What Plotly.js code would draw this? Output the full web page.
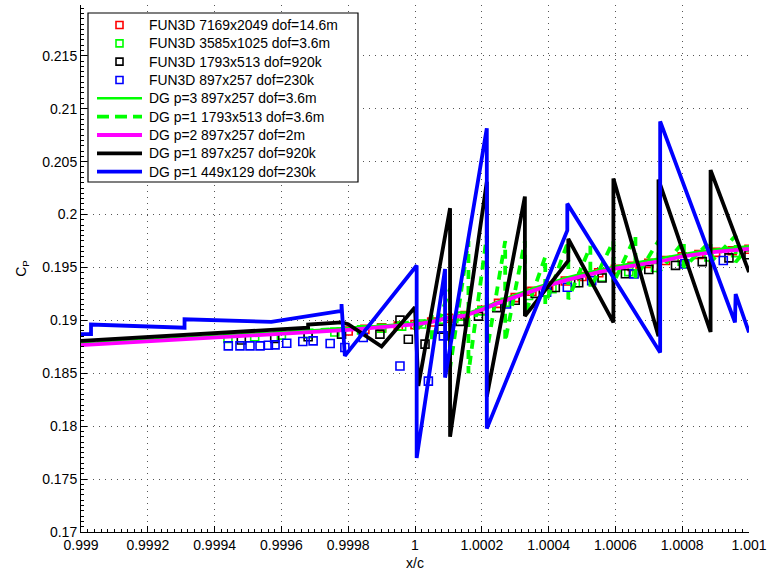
<!DOCTYPE html>
<html>
<head>
<meta charset="utf-8">
<script src="https://cdn.plot.ly/plotly-3.0.1.min.js"></script>
<style>html,body{margin:0;padding:0;background:#fff;}#chart{width:767px;height:578px;}</style>
</head>
<body>
<div id="chart"></div>
<script>
// ---------- data ----------
const xTicks = [0.999, 0.9992, 0.9994, 0.9996, 0.9998, 1.0, 1.0002, 1.0004, 1.0006, 1.0008, 1.001];
const xTickText = ['0.999', '0.9992', '0.9994', '0.9996', '0.9998', '1', '1.0002', '1.0004', '1.0006', '1.0008', '1.001'];
const yTicks = [0.17, 0.175, 0.18, 0.185, 0.19, 0.195, 0.2, 0.205, 0.21, 0.215];
const yTickText = ['0.17', '0.175', '0.18', '0.185', '0.19', '0.195', '0.2', '0.205', '0.21', '0.215'];

const seriesNames = [
  'FUN3D 7169x2049 dof=14.6m',
  'FUN3D 3585x1025 dof=3.6m',
  'FUN3D 1793x513 dof=920k',
  'FUN3D 897x257 dof=230k',
  'DG p=3 897x257 dof=3.6m',
  'DG p=1 1793x513 dof=3.6m',
  'DG p=2 897x257 dof=2m',
  'DG p=1 897x257 dof=920k',
  'DG p=1 449x129 dof=230k'
];

// FUN3D 7169x2049 (red squares)
const redX = [0.9998, 0.99985, 0.9999, 0.99995, 1.0, 1.00005, 1.0001, 1.00015, 1.0002, 1.00025, 1.0003, 1.00035, 1.0004, 1.00045, 1.0005, 1.00055, 1.0006, 1.00065, 1.0007, 1.00075, 1.0008, 1.00085, 1.0009, 1.00095, 1.001];
const redY = [0.18900, 0.18915, 0.18930, 0.18945, 0.18960, 0.18985, 0.19020, 0.19045, 0.19095, 0.19160, 0.19215, 0.19275, 0.19325, 0.19372, 0.19415, 0.19450, 0.19482, 0.19510, 0.19538, 0.19565, 0.19600, 0.19622, 0.19642, 0.19658, 0.19672];

// FUN3D 3585x1025 (green squares)
const grnX = [0.99944, 0.99952, 0.9996, 0.99968, 0.99976, 0.99984, 0.9999, 0.99996, 1.00002, 1.00008, 1.00014, 1.0002, 1.00027, 1.00034, 1.00041, 1.00048, 1.00056, 1.00064, 1.00072, 1.0008, 1.00088, 1.00096];
const grnY = [0.18830, 0.18845, 0.18860, 0.18875, 0.18890, 0.18910, 0.18925, 0.18945, 0.18965, 0.19010, 0.19040, 0.19090, 0.19170, 0.19235, 0.19300, 0.19355, 0.19410, 0.19460, 0.19500, 0.19560, 0.19600, 0.19640];

// FUN3D 1793x513 (black squares)
const blkX = [0.99948, 0.99958, 0.99968, 0.99978, 0.999895, 0.999955, 0.99998, 1.00003, 1.00008, 1.000135, 1.00019, 1.000245, 1.0003, 1.00036, 1.00042, 1.00049, 1.00056, 1.00063, 1.0007, 1.00078, 1.00086, 1.00094, 1.001];
const blkY = [0.18815, 0.18830, 0.18845, 0.18870, 0.18870, 0.19002, 0.18822, 0.18775, 0.18917, 0.18990, 0.19040, 0.19120, 0.19190, 0.19255, 0.19310, 0.19355, 0.19400, 0.19440, 0.19480, 0.19520, 0.19555, 0.19590, 0.19620];

// FUN3D 897x257 (blue squares)
const bluX = [0.999441, 0.999476, 0.999506, 0.999536, 0.999561, 0.999581, 0.999616, 0.999664, 0.999695, 0.999746, 0.99979, 0.999845, 0.999955, 1.00004, 1.000085, 1.000274, 1.000394, 1.000456, 1.000529, 1.000656, 1.000808, 1.000923];
const bluY = [0.18759, 0.18759, 0.18759, 0.18759, 0.18765, 0.18768, 0.18784, 0.18800, 0.18806, 0.18781, 0.18743, 0.18838, 0.18569, 0.18426, 0.18853, 0.19154, 0.19265, 0.19313, 0.19375, 0.19439, 0.19534, 0.19565];

// DG p=3 897x257 (green solid)
const dg3X = [0.999, 0.9992, 0.9994, 0.9996, 0.9998, 0.9999, 1.0, 1.00005, 1.0001, 1.00015, 1.0002, 1.00025, 1.0003, 1.00035, 1.0004, 1.00045, 1.0005, 1.00055, 1.0006, 1.00065, 1.0007, 1.00075, 1.0008, 1.00085, 1.0009, 1.00095, 1.001];
const dg3Y = [0.18780, 0.18815, 0.18850, 0.18885, 0.18925, 0.18950, 0.18975, 0.19000, 0.19035, 0.19060, 0.19115, 0.19180, 0.19240, 0.19300, 0.19350, 0.19400, 0.19440, 0.19478, 0.19510, 0.19540, 0.19568, 0.19595, 0.19628, 0.19650, 0.19670, 0.19685, 0.19700];

// DG p=1 1793x513 (green dashed)
const dg1fX = [0.999, 0.9996, 0.9998, 0.99995, 1.0, 1.0, 1.00005, 1.00005, 1.000105, 1.000105, 1.00016, 1.00016, 1.000215, 1.000215, 1.00027, 1.00027, 1.000329, 1.000329, 1.00039, 1.00039, 1.000459, 1.000459, 1.000525, 1.000525, 1.000594, 1.000594, 1.00066, 1.00066, 1.000729, 1.000729, 1.000805, 1.000805, 1.000885, 1.000885, 1.00096, 1.00096, 1.001];
const dg1fY = [0.18785, 0.18890, 0.18930, 0.18950, 0.19000, 0.18900, 0.19050, 0.18800, 0.19300, 0.18550, 0.19750, 0.18500, 0.19800, 0.18700, 0.19750, 0.18800, 0.19750, 0.19050, 0.19600, 0.19150, 0.19750, 0.19200, 0.19700, 0.19300, 0.19750, 0.19350, 0.19800, 0.19400, 0.19750, 0.19450, 0.19750, 0.19500, 0.19750, 0.19550, 0.19800, 0.19550, 0.19700];

// DG p=2 897x257 (magenta)
const dg2X = [0.999, 0.9992, 0.9994, 0.9996, 0.9998, 0.9999, 1.0, 1.00005, 1.0001, 1.00015, 1.0002, 1.00025, 1.0003, 1.00035, 1.0004, 1.00045, 1.0005, 1.00055, 1.0006, 1.00065, 1.0007, 1.00075, 1.0008, 1.00085, 1.0009, 1.00095, 1.001];
const dg2Y = [0.18765, 0.18800, 0.18835, 0.18870, 0.18910, 0.18935, 0.18962, 0.18985, 0.19025, 0.19045, 0.19100, 0.19165, 0.19222, 0.19280, 0.19330, 0.19378, 0.19420, 0.19456, 0.19488, 0.19515, 0.19542, 0.19568, 0.19605, 0.19628, 0.19648, 0.19662, 0.19676];

// DG p=1 897x257 (black)
const dg1mX = [0.999, 0.99968, 0.99968, 0.99978, 0.9998, 0.9999, 1.0, 1.00001, 1.000105, 1.000105, 1.000215, 1.000215, 1.000329, 1.000329, 1.000459, 1.000459, 1.000594, 1.000594, 1.000729, 1.000729, 1.000885, 1.000885, 1.001];
const dg1mY = [0.18806, 0.18930, 0.18960, 0.18980, 0.18964, 0.18753, 0.19123, 0.18380, 0.20060, 0.17900, 0.20310, 0.18280, 0.20170, 0.19040, 0.19565, 0.19770, 0.18980, 0.20340, 0.18850, 0.20330, 0.18890, 0.20420, 0.19455];

// DG p=1 449x129 (blue)
const dg1cX = [0.999, 0.99903, 0.99903, 0.99931, 0.99931, 0.99957, 0.99978, 0.99978, 0.99979, 1.000005, 1.000005, 1.00009, 1.00009, 1.000215, 1.000215, 1.000456, 1.000456, 1.000734, 1.000734, 1.000958, 1.00096, 1.001];
const dg1cY = [0.18870, 0.18870, 0.18960, 0.18930, 0.19010, 0.18986, 0.19090, 0.19154, 0.18664, 0.19518, 0.17700, 0.19486, 0.18459, 0.20815, 0.17977, 0.19850, 0.20103, 0.18696, 0.20880, 0.18981, 0.19249, 0.18886];

// ---------- styles ----------
const colors = ['#ff0000', '#00ff00', '#000000', '#0000ff', '#00ff00', '#00ff00', '#ff00ff', '#000000', '#0000ff'];
const widths = [0, 0, 0, 0, 2.5, 3.8, 3.8, 3.8, 3.8];
const dashes = ['', '', '', '', 'solid', '9px,7px', 'solid', 'solid', 'solid'];

const sq = (i, x, y) => ({
  type: 'scatter', mode: 'markers', name: seriesNames[i], x: x, y: y, showlegend: false,
  marker: {symbol: 'square-open', size: 8, color: colors[i], line: {width: 1.6, color: colors[i]}}
});
const ln = (i, x, y) => ({
  type: 'scatter', mode: 'lines', name: seriesNames[i], x: x, y: y, showlegend: false,
  line: {color: colors[i], width: widths[i], dash: dashes[i]}
});

const traces = [
  sq(0, redX, redY), sq(1, grnX, grnY), sq(2, blkX, blkY), sq(3, bluX, bluY),
  ln(4, dg3X, dg3Y), ln(5, dg1fX, dg1fY), ln(6, dg2X, dg2Y), ln(7, dg1mX, dg1mY), ln(8, dg1cX, dg1cY)
];

// ---------- legend box (drawn in paper space) ----------
const W = 767, H = 578, ML = 81, MR = 18, MT = 5, MB = 46;
const PW = W - ML - MR, PH = H - MT - MB;
const px = v => (v - ML) / PW;
const py = v => (H - MB - v) / PH;
const legBox = {left: 88, right: 358, top: 13, bottom: 182};
const rowTop = 25, rowStep = 18.33;
const sampleL = 97, sampleR = 142, markC = 119.5, textL = 147;

const shapes = [{
  type: 'rect', xref: 'paper', yref: 'paper', layer: 'above',
  x0: px(legBox.left), x1: px(legBox.right), y0: py(legBox.bottom), y1: py(legBox.top),
  fillcolor: '#fff', line: {color: '#000', width: 1.2}
}];
const annotations = [];
seriesNames.forEach((name, i) => {
  const yc = rowTop + i * rowStep;
  if (i < 4) {
    shapes.push({
      type: 'rect', xref: 'paper', yref: 'paper', layer: 'above',
      x0: px(markC - 3.5), x1: px(markC + 3.5), y0: py(yc + 3.5), y1: py(yc - 3.5),
      line: {color: colors[i], width: 1.6}, fillcolor: 'rgba(0,0,0,0)'
    });
  } else {
    shapes.push({
      type: 'line', xref: 'paper', yref: 'paper', layer: 'above',
      x0: px(sampleL), x1: px(sampleR), y0: py(yc), y1: py(yc),
      line: {color: colors[i], width: widths[i], dash: i === 5 ? '12px,6px' : 'solid'}
    });
  }
  annotations.push({
    xref: 'paper', yref: 'paper', x: px(textL), y: py(yc), xanchor: 'left', yanchor: 'middle',
    text: name, showarrow: false,
    font: {family: 'Liberation Sans, Arial, Helvetica, sans-serif', size: 13.9, color: '#000'}
  });
});

const axisFont = {family: 'Liberation Sans, Arial, Helvetica, sans-serif', size: 14, color: '#000'};

const layout = {
  width: W, height: H,
  margin: {l: ML, r: MR, t: MT, b: MB, pad: 0},
  paper_bgcolor: '#fff', plot_bgcolor: '#fff',
  font: axisFont,
  showlegend: false,
  shapes: shapes,
  annotations: annotations,
  xaxis: {
    range: [0.999, 1.001], tickmode: 'array', tickvals: xTicks, ticktext: xTickText,
    ticks: 'inside', ticklen: 6, tickwidth: 1, tickcolor: '#000',
    showline: true, linecolor: '#000', linewidth: 1, mirror: false, zeroline: false,
    showgrid: true, gridcolor: '#555', gridwidth: 1, griddash: '1px,5px',
    minor: {ticks: 'inside', ticklen: 3, tickcolor: '#000', dtick: 0.00002, tick0: 0.999, showgrid: false},
    title: {text: 'x/c', font: axisFont, standoff: 6},
    tickfont: axisFont
  },
  yaxis: {
    range: [0.17, 0.2198], tickmode: 'array', tickvals: yTicks, ticktext: yTickText,
    ticks: 'inside', ticklen: 6, tickwidth: 1, tickcolor: '#000',
    showline: true, linecolor: '#000', linewidth: 1, mirror: false, zeroline: false,
    showgrid: true, gridcolor: '#555', gridwidth: 1, griddash: '1px,5px',
    minor: {ticks: 'inside', ticklen: 3, tickcolor: '#000', dtick: 0.0005, tick0: 0.17, showgrid: false},
    title: {text: 'C<sub>P</sub>', font: axisFont, standoff: 12},
    tickfont: axisFont
  }
};

Plotly.newPlot('chart', traces, layout, {displayModeBar: false, staticPlot: true});
</script>
</body>
</html>
